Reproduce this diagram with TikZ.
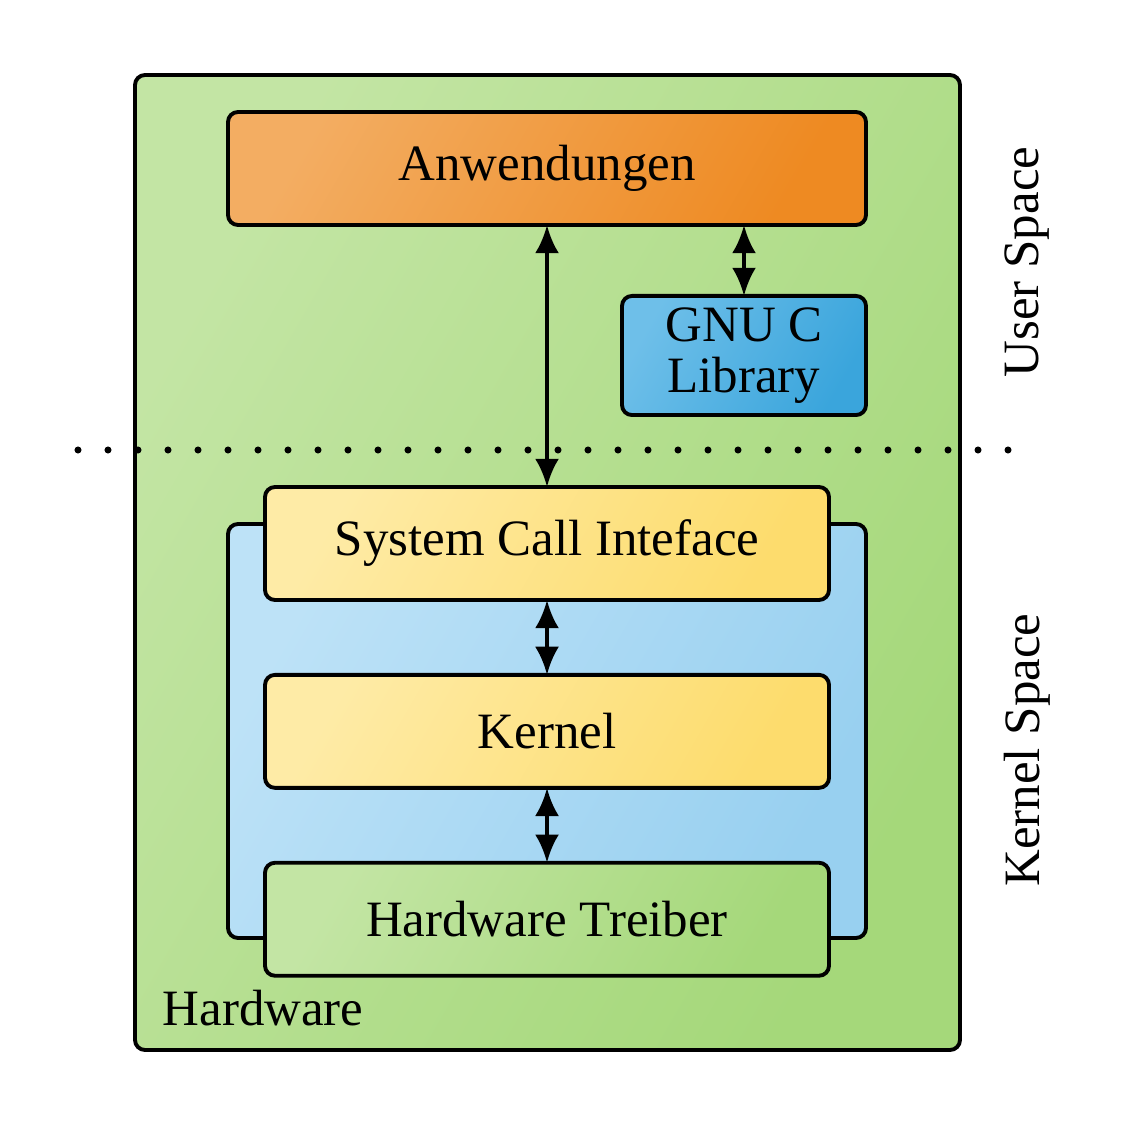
\documentclass[tikz,border=0pt]{standalone}
\usepackage{fontspec}
\setmainfont{Liberation Serif}
\definecolor{gruenhell}{RGB}{195, 229, 164}
\definecolor{gruendunkel}{RGB}{165, 216, 122}
\definecolor{orangehell}{RGB}{243, 173, 98}
\definecolor{orangedunkel}{RGB}{238, 138, 34}
\definecolor{blauhell}{RGB}{110, 191, 233}
\definecolor{blaudunkel}{RGB}{58, 165, 220}
\definecolor{himmelhell}{RGB}{189, 226, 247}
\definecolor{himmeldunkel}{RGB}{152, 208, 240}
\definecolor{gelbhell}{RGB}{254, 235, 166}
\definecolor{gelbdunkel}{RGB}{253, 220, 109}
\usetikzlibrary{arrows.meta}
\usetikzlibrary{positioning}
\usetikzlibrary{calc}

\tikzset{
    schicht/.style={draw, line width=1.1pt, rounded corners=1mm, align=center, font=\fontsize{14.5}{14.5}\selectfont},
    verlauf/.style 2 args={left color=#1, right color=#2, shading angle=60},
    pfeil/.style={{Latex[length=2.8mm,width=2.4mm]}-{Latex[length=2.8mm,width=2.4mm]}, line width=1.1pt, shorten <=-0.5pt, shorten >=-0.5pt}
}

\begin{document}
\begin{tikzpicture}
    \useasboundingbox (0,0) rectangle (11.46,11.25);

    % Hardware box
    \node[schicht, verlauf={gruenhell}{gruendunkel}, minimum width=8.25cm, minimum height=9.75cm] (hw) at (5.475,5.625) {};
    \node[anchor=west, inner sep=0pt, font=\fontsize{14.5}{14.5}\selectfont] (hwtext) at (1.62,1.17) {Hardware};

    % User space
    \node[schicht, verlauf={orangehell}{orangedunkel}, minimum width=6.38cm, minimum height=1.13cm] (anw) at (5.47,9.565) {Anwendungen};
    \node[schicht, verlauf={blauhell}{blaudunkel}, minimum width=2.44cm, minimum height=1.13cm] (glibc) at (7.44,7.695) {GNU C\\Library};

    % Kernel space
    \node[schicht, verlauf={himmelhell}{himmeldunkel}, minimum width=6.38cm, minimum height=4.14cm] (ks) at (5.47,3.94) {};
    \node[schicht, verlauf={gelbhell}{gelbdunkel}, minimum width=5.64cm, minimum height=1.13cm] (sci) at (5.47,5.815) {System Call Inteface};
    \node[schicht, verlauf={gelbhell}{gelbdunkel}, minimum width=5.64cm, minimum height=1.13cm] (kern) [below=0.71cm of sci] {Kernel};
    \node[schicht, verlauf={gruenhell}{gruendunkel}, minimum width=5.64cm, minimum height=1.13cm] (treiber) [below=0.71cm of kern] {Hardware Treiber};

    % Separator
    \coordinate (sepl) at (0.78,6.75);
    \coordinate (sepr) at (10.3,6.75);
    \draw[line width=2pt, line cap=round, dash pattern=on 0pt off 0.3cm] (sepl) -- (sepr);

    % Arrows
    \draw[pfeil] (anw) -- (sci);
    \draw[pfeil] (anw.south -| glibc.north) -- (glibc.north);
    \draw[pfeil] (sci) -- (kern);
    \draw[pfeil] (kern) -- (treiber);

    % Labels
    \node[rotate=90, font=\fontsize{14.5}{14.5}\selectfont] (us) at (10.27,8.63) {User Space};
    \node[rotate=90, font=\fontsize{14.5}{14.5}\selectfont] (kspace) at (10.27,3.75) {Kernel Space};
\end{tikzpicture}
\end{document}
